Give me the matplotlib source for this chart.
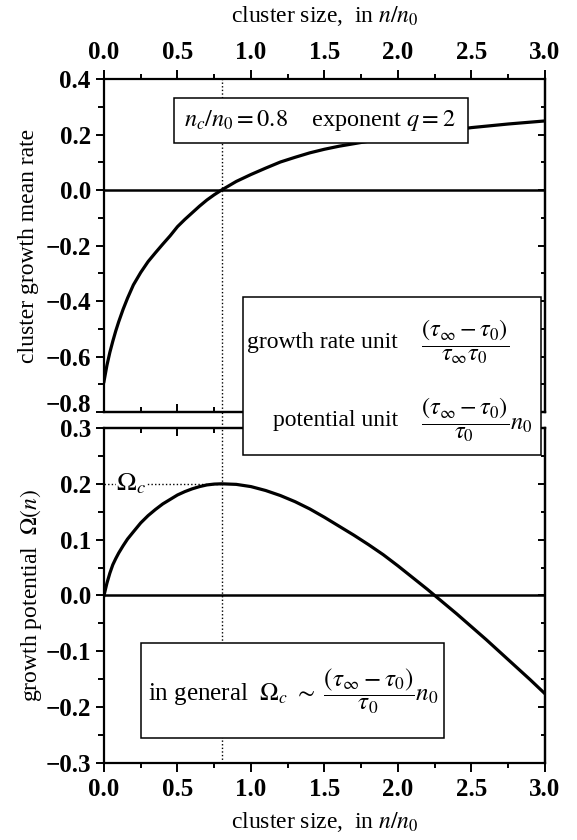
import matplotlib
matplotlib.use('Agg')
import matplotlib.pyplot as plt
from matplotlib.patches import Rectangle
from matplotlib.lines import Line2D
from matplotlib.ticker import MultipleLocator
import matplotlib.transforms as mtransforms

plt.rcParams['font.family'] = ['Liberation Serif', 'DejaVu Serif']
plt.rcParams['mathtext.fontset'] = 'stix'

# ---- data ----
rate_n = [0.0, 0.02, 0.04, 0.06, 0.08, 0.10, 0.13, 0.16, 0.20, 0.25, 0.30, 0.35,
          0.40, 0.45, 0.50, 0.55, 0.60, 0.65, 0.70, 0.75, 0.80, 0.90, 1.00, 1.10,
          1.20, 1.30, 1.40, 1.50, 1.60, 1.70, 1.80, 2.00, 2.20, 2.50, 2.75, 3.00]
rate_val = [-0.690, -0.632, -0.585, -0.545, -0.508, -0.475, -0.430, -0.390,
            -0.342, -0.297, -0.258, -0.226, -0.195, -0.165, -0.132, -0.106,
            -0.082, -0.058, -0.036, -0.017, 0.0, 0.031, 0.056, 0.079, 0.101,
            0.118, 0.134, 0.147, 0.158, 0.167, 0.176, 0.190, 0.204, 0.225,
            0.238, 0.249]

pot_n = [0.0, 0.02, 0.04, 0.06, 0.08, 0.10, 0.13, 0.16, 0.20, 0.25, 0.30, 0.35,
         0.40, 0.45, 0.50, 0.55, 0.60, 0.65, 0.70, 0.75, 0.80, 0.85, 0.90, 1.00,
         1.10, 1.20, 1.30, 1.40, 1.50, 1.60, 1.70, 1.80, 1.90, 2.00, 2.10, 2.20,
         2.25, 2.30, 2.40, 2.50, 2.60, 2.70, 2.80, 2.90, 3.00]
pot_val = [0.0, 0.022, 0.040, 0.055, 0.066, 0.076, 0.089, 0.101, 0.114, 0.130,
           0.143, 0.154, 0.164, 0.172, 0.180, 0.186, 0.191, 0.195, 0.198, 0.1995,
           0.200, 0.1995, 0.199, 0.195, 0.188, 0.179, 0.168, 0.155, 0.140, 0.124,
           0.108, 0.091, 0.073, 0.053, 0.032, 0.011, 0.0, -0.011, -0.033, -0.056,
           -0.079, -0.103, -0.127, -0.151, -0.176]

n_c = 0.8
omega_c = 0.2

x_ticks = [0.0, 0.5, 1.0, 1.5, 2.0, 2.5, 3.0]
rate_ticks = [-0.8, -0.6, -0.4, -0.2, 0.0, 0.2, 0.4]
pot_ticks = [-0.3, -0.2, -0.1, 0.0, 0.1, 0.2, 0.3]


def fmt(v):
    s = f'{abs(v):.1f}'
    return ('\u2212' + s) if v < -1e-9 else s


fig = plt.figure(figsize=(5.77, 8.4), dpi=100)
ax1 = fig.add_axes([0.1802, 0.5095, 0.7643, 0.3964])
ax2 = fig.add_axes([0.1802, 0.0917, 0.7643, 0.3988])

TICKFS = 18
SPLW = 1.6
YLEN = 5.5
YPAD = 4


def style(ax, yticks, yminor, label_side, skip_label=None):
    ax.set_xlim(0, 3)
    ax.set_ylim(yticks[0], yticks[-1])
    for sp in ax.spines.values():
        sp.set_linewidth(SPLW)
    ax.set_xticks(x_ticks, labels=[fmt(t) for t in x_ticks],
                  fontsize=TICKFS, fontweight='bold')
    ax.xaxis.set_minor_locator(MultipleLocator(0.25))
    ylabels = ['' if (skip_label is not None and abs(t - skip_label) < 1e-9)
               else fmt(t) for t in yticks]
    ax.set_yticks(yticks, labels=ylabels, fontsize=TICKFS, fontweight='bold')
    ax.yaxis.set_minor_locator(MultipleLocator(yminor))
    if label_side == 'top':
        ax.xaxis.tick_top()
        ax.tick_params(axis='x', which='both', top=True, bottom=False,
                       labeltop=True, labelbottom=False, direction='out')
        other = 'bottom'
    else:
        ax.tick_params(axis='x', which='both', top=False, bottom=True,
                       labeltop=False, labelbottom=True, direction='out')
        other = 'top'
    ax.tick_params(axis='x', which='major', length=6.5, width=1.4, pad=4)
    ax.tick_params(axis='x', which='minor', length=3.6, width=1.4)
    ax.tick_params(axis='y', which='both', left=True, right=False,
                   direction='out')
    ax.tick_params(axis='y', which='major', length=YLEN, width=1.4, pad=YPAD)
    ax.tick_params(axis='y', which='minor', length=4.5, width=1.4)

    sx = ax.secondary_xaxis(other)
    sx.set_xticks(x_ticks)
    sx.xaxis.set_minor_locator(MultipleLocator(0.25))
    sx.tick_params(axis='x', which='both', direction='in',
                   labeltop=False, labelbottom=False)
    sx.tick_params(axis='x', which='major', length=6, width=1.4)
    sx.tick_params(axis='x', which='minor', length=3.4, width=1.4)
    for sp in sx.spines.values():
        sp.set_linewidth(SPLW)

    sy = ax.secondary_yaxis('right')
    sy.set_yticks(yticks)
    sy.yaxis.set_minor_locator(MultipleLocator(yminor))
    sy.tick_params(axis='y', which='both', direction='in', labelright=False)
    sy.tick_params(axis='y', which='major', length=5, width=1.4)
    sy.tick_params(axis='y', which='minor', length=3, width=1.4)
    for sp in sy.spines.values():
        sp.set_linewidth(SPLW)


style(ax1, rate_ticks, 0.1, 'top', skip_label=rate_ticks[0])
style(ax2, pot_ticks, 0.05, 'bottom')

# lowest label of the top panel, lifted so it sits above the panel gap
ax1.annotate(fmt(rate_ticks[0]), xy=(0, rate_ticks[0]),
             xycoords=('axes fraction', 'data'),
             xytext=(-(YLEN + YPAD), 4.5), textcoords='offset points',
             ha='right', va='center', fontsize=TICKFS, fontweight='bold',
             annotation_clip=False)

DOT = (0, (1.0, 1.6))

# top panel
ax1.axhline(0, color='black', lw=1.8, zorder=2)
ax1.axvline(n_c, color='black', lw=1.0, ls=DOT, zorder=1)
ax1.plot(rate_n, rate_val, color='black', lw=2.3, zorder=3)

# bottom panel
ax2.axhline(0, color='black', lw=1.8, zorder=2)
ax2.axvline(n_c, color='black', lw=1.0, ls=DOT, zorder=1)
ax2.hlines(omega_c, 0, n_c, color='black', lw=1.0, linestyles=DOT, zorder=1)
ax2.plot(pot_n, pot_val, color='black', lw=2.3, zorder=3)
ax2.text(0.085, omega_c, r'$\Omega_c\quad$', fontsize=19, ha='left', va='center',
         zorder=4, bbox=dict(facecolor='white', edgecolor='none', pad=0.5))

# dotted line in the gap between panels
blend = mtransforms.blended_transform_factory(ax1.transData, fig.transFigure)
p1 = ax1.get_position()
p2 = ax2.get_position()
fig.add_artist(Line2D([n_c, n_c], [p2.y1, p1.y0], transform=blend,
                      color='black', lw=1.0, ls=DOT, zorder=0.5))

# box 1 (top panel)
ax1.add_patch(Rectangle((0.473, 0.168), 2.0, 0.165, facecolor='white',
                        edgecolor='black', lw=1.1, zorder=5))
ax1.text(1.47, 0.252, r'$n_c/n_0 = 0.8$    exponent $q = 2$', fontsize=17.5,
         ha='center', va='center', zorder=6)

# box 2 (spans both panels)
fig.add_artist(Rectangle((0.946, -0.955), 2.029, 0.568, transform=ax1.transData,
                         facecolor='white', edgecolor='black', lw=1.1, zorder=2))
fig.text(2.0, -0.548, 'growth rate unit', transform=ax1.transData, fontsize=17,
         ha='right', va='center', zorder=3)
fig.text(2.16, -0.548, r'$\dfrac{(\tau_\infty - \tau_0)}{\tau_\infty\tau_0}$',
         transform=ax1.transData, fontsize=17.5, ha='left', va='center', zorder=3)
fig.text(2.0, -0.829, 'potential unit', transform=ax1.transData, fontsize=17,
         ha='right', va='center', zorder=3)
fig.text(2.16, -0.829, r'$\dfrac{(\tau_\infty - \tau_0)}{\tau_0}n_0$',
         transform=ax1.transData, fontsize=17.5, ha='left', va='center', zorder=3)

# box 3 (bottom panel)
ax2.add_patch(Rectangle((0.249, -0.255), 2.066, 0.1695, facecolor='white',
                        edgecolor='black', lw=1.1, zorder=5))
ax2.text(1.29, -0.172,
         r'in general  $\Omega_c\ \sim\ \dfrac{(\tau_\infty - \tau_0)}{\tau_0}n_0$',
         fontsize=18, ha='center', va='center', zorder=6)

# axis labels
fig.text(p1.x0 + p1.width / 2, 1 - 16 / 840, r'cluster size,  in $n/n_0$',
         fontsize=17, ha='center', va='center')
fig.text(p2.x0 + p2.width / 2, 1 - 822 / 840, r'cluster size,  in $n/n_0$',
         fontsize=17, ha='center', va='center')
fig.text(28.5 / 577, p1.y0 + p1.height / 2, 'cluster growth mean rate',
         fontsize=17, rotation=90, ha='center', va='center')
fig.text(31.5 / 577, p2.y0 + p2.height / 2, r'growth potential  $\Omega(n)$',
         fontsize=17, rotation=90, ha='center', va='center')

fig.savefig('out.png', dpi=100, facecolor='white')
